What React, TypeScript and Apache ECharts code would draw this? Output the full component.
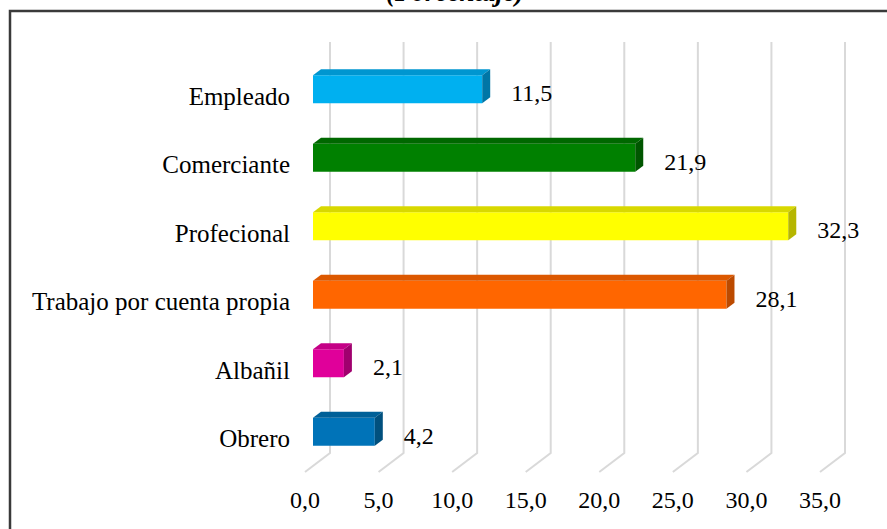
import React, { useEffect, useRef } from "react";
import * as echarts from "echarts";

const categories = ["Empleado", "Comerciante", "Profecional", "Trabajo por cuenta propia", "Albañil", "Obrero"];
const values = [11.5, 21.9, 32.3, 28.1, 2.1, 4.2];
const frontColors = ["#00b0f0", "#008000", "#ffff00", "#ff6600", "#e0009a", "#0073b8"];
const topColors = ["#0096d0", "#006800", "#d8d800", "#dc5800", "#c40086", "#006098"];
const sideColors = ["#0076a6", "#005600", "#b6b600", "#bc4a00", "#a0006e", "#00507e"];
const ticks = [0, 5, 10, 15, 20, 25, 30, 35];
const title = "(Porcentaje)";

const FONT = "Liberation Serif";
const fmt = (v: number) => v.toFixed(1).replace(".", ",");

export default function App() {
  const ref = useRef<HTMLDivElement>(null);
  useEffect(() => {
    if (!ref.current) return;
    const chart = echarts.init(ref.current, null, { renderer: "svg" });
    const DX = 8;
    const DY = -6;
    const H = 28;
    chart.setOption({
      animation: false,
      backgroundColor: "#ffffff",
      textStyle: { fontFamily: FONT },
      grid: { left: 313, right: 59, top: 55, bottom: 63, containLabel: false },
      xAxis: {
        type: "value",
        min: 0,
        max: 35,
        interval: 5,
        axisLine: { show: false },
        axisTick: { show: false },
        splitLine: { show: false },
        axisLabel: {
          formatter: (v: number) => fmt(v),
          fontFamily: FONT,
          fontSize: 24,
          color: "#000",
          margin: 22,
          padding: [0, 16, 0, 0],
        },
      },
      yAxis: {
        type: "category",
        data: categories,
        inverse: true,
        axisLine: { show: false },
        axisTick: { show: false },
        splitLine: { show: false },
        axisLabel: {
          formatter: "{a|{value}}",
          margin: 23,
          rich: {
            a: {
              fontFamily: FONT,
              fontSize: 25,
              color: "#000",
              padding: [14, 0, 0, 0],
            },
          },
        },
      },
      graphic: [
        {
          type: "rect",
          shape: { x: 10, y: 11, width: 1000, height: 1000 },
          style: { fill: "none", stroke: "#3a3a3a", lineWidth: 2.5 },
          silent: true,
        },
        {
          type: "text",
          x: 455,
          y: -22,
          style: {
            text: title,
            fontFamily: FONT,
            fontSize: 27,
            fontStyle: "italic",
            fontWeight: "bold",
            fill: "#000",
            textAlign: "center",
            textVerticalAlign: "top",
          },
        },
      ],
      series: [
        {
          type: "custom",
          name: "grid",
          silent: true,
          z: 1,
          data: ticks.map((t) => [t, 0]),
          encode: { x: 0, y: 1 },
          renderItem: (params: any, api: any) => {
            const cs = params.coordSys;
            const x = api.coord([api.value(0), 0])[0];
            const top = cs.y - 13;
            const backBottom = cs.y + cs.height - 13;
            const front = cs.y + cs.height + 6;
            return {
              type: "polyline",
              shape: {
                points: [
                  [x + 17, top],
                  [x + 17, backBottom],
                  [x - 8, front],
                ],
              },
              style: { stroke: "#d9d9d9", lineWidth: 2, fill: "none" },
            };
          },
        },
        {
          type: "custom",
          name: "bars",
          z: 2,
          data: values.map((v, i) => [v, i]),
          encode: { x: 0, y: 1 },
          renderItem: (params: any, api: any) => {
            const v = api.value(0);
            const i = params.dataIndex;
            const [x1, yc] = api.coord([v, api.value(1)]);
            const x0 = api.coord([0, api.value(1)])[0];
            const top = yc - H / 2;
            const bottom = yc + H / 2;
            return {
              type: "group",
              children: [
                {
                  type: "rect",
                  shape: { x: x0, y: top, width: x1 - x0, height: H },
                  style: { fill: frontColors[i] },
                },
                {
                  type: "polygon",
                  shape: {
                    points: [
                      [x0, top],
                      [x1, top],
                      [x1 + DX, top + DY],
                      [x0 + DX, top + DY],
                    ],
                  },
                  style: { fill: topColors[i] },
                },
                {
                  type: "polygon",
                  shape: {
                    points: [
                      [x1, top],
                      [x1 + DX, top + DY],
                      [x1 + DX, bottom + DY],
                      [x1, bottom],
                    ],
                  },
                  style: { fill: sideColors[i] },
                },
                {
                  type: "text",
                  x: x1 + 29,
                  y: yc + 4,
                  style: {
                    text: fmt(v),
                    fontFamily: FONT,
                    fontSize: 24,
                    fill: "#000",
                    textAlign: "left",
                    textVerticalAlign: "middle",
                  },
                },
              ],
            };
          },
        },
      ],
    });
    return () => chart.dispose();
  }, []);
  return (
    <div
      ref={ref}
      style={{ position: "fixed", left: 0, top: 0, width: 887, height: 529 }}
    />
  );
}
